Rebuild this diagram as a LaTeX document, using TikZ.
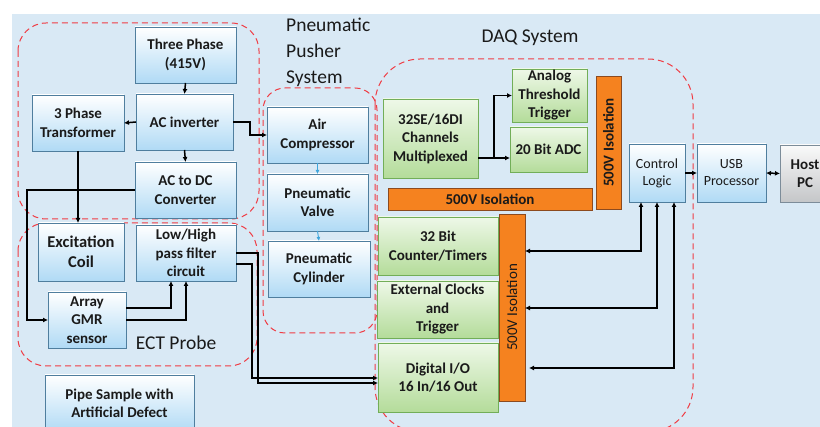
\documentclass[tikz,border=0pt]{standalone}
\usepackage{fontspec}
\setmainfont{Carlito}
\usetikzlibrary{arrows.meta,shadows}
\definecolor{bg}{HTML}{D9E9F5}
\definecolor{boxblue}{HTML}{B0DAF5}
\definecolor{boxedge}{HTML}{4F7E9E}
\definecolor{grnlight}{HTML}{EEF8E8}
\definecolor{grndark}{HTML}{B4DC9A}
\definecolor{grnedge}{HTML}{72AE58}
\definecolor{orng}{HTML}{F5821F}
\definecolor{orngedge}{HTML}{8C4A1E}
\definecolor{grylight}{HTML}{FAFAFA}
\definecolor{grydark}{HTML}{C4C6C8}
\definecolor{gryedge}{HTML}{7C8C99}
\definecolor{reddash}{HTML}{F03C44}
\definecolor{pneuarrow}{HTML}{3DA5DC}
\definecolor{txt}{HTML}{1A1A1A}
\tikzset{
  boxfont/.style={font=\bfseries\fontsize{15}{18.5}\selectfont},
  shade3d/.style={drop shadow={shadow xshift=1.3pt,shadow yshift=-1.3pt,fill=black!70,opacity=0.55}},
  bbox/.style={draw=boxedge, line width=0.8pt, top color=white, bottom color=boxblue,
    inner sep=1pt, outer sep=0pt, align=center, boxfont, text=txt, shade3d},
  gbox/.style={draw=grnedge, line width=0.8pt, top color=grnlight, bottom color=grndark,
    inner sep=1pt, outer sep=0pt, align=center, boxfont, text=txt, shade3d},
  hbox/.style={draw=gryedge, line width=0.8pt, top color=grylight, bottom color=grydark,
    inner sep=1pt, outer sep=0pt, align=center, boxfont, text=txt, shade3d},
  obar/.style={draw=orngedge, line width=0.9pt, fill=orng, inner sep=0pt, outer sep=0pt,
    align=center, text=txt, shade3d},
  grp/.style={draw=reddash, line width=1pt, dash pattern=on 6pt off 4pt},
  conn/.style={draw=black, line width=1.5pt, -{Latex[length=5pt,width=5pt]}},
  conn2/.style={draw=black, line width=1.5pt, {Latex[length=5pt,width=5pt]}-{Latex[length=5pt,width=5pt]}},
  pconn/.style={draw=pneuarrow, line width=0.9pt, -{Latex[length=4pt,width=4pt]}},
  lbl/.style={font=\fontsize{19.5}{26}\selectfont, text=txt, inner sep=0pt},
}
\begin{document}
\begin{tikzpicture}[x=1pt,y=-1pt]
\path[use as bounding box] (0,0) rectangle (820,427);
\clip (0,0) rectangle (820,427);
\fill[white] (0,0) rectangle (820,427);
\fill[bg] (12,14) rectangle (820,427);

% dashed groups
\draw[grp, rounded corners=28pt] (18,23) rectangle (259,219);
\draw[grp, rounded corners=28pt] (18,223) rectangle (257,366);
\draw[grp, rounded corners=22pt] (263,88) rectangle (377,333);
\draw[grp, rounded corners=45pt] (375,59) rectangle (693,432);

% labels
\node[lbl, align=left, anchor=west] (pnlbl) at (286,52) {Pneumatic\\Pusher\\System};
\node[lbl] (daqlbl) at (530,38) {DAQ System};
\node[lbl] (ectlbl) at (176,343) {ECT Probe};

% power group
\node[bbox, minimum width=101pt, minimum height=56pt] (threephase) at (185.5,55) {Three Phase\\(415V)};
\node[bbox, minimum width=97pt, minimum height=56pt] (acinv) at (184.5,122) {AC inverter};
\node[bbox, minimum width=92pt, minimum height=56pt] (trans) at (78,123) {3 Phase\\Transformer};
\node[bbox, minimum width=101pt, minimum height=56pt] (acdc) at (185.5,190) {AC to DC\\Converter};

% ECT probe
\node[bbox, minimum width=86pt, minimum height=58pt, font=\bfseries\fontsize{16.5}{20}\selectfont] (excoil) at (81,252) {Excitation\\Coil};
\node[bbox, minimum width=100pt, minimum height=56pt] (filter) at (186,253) {Low/High\\pass filter\\circuit};
\node[bbox, minimum width=78pt, minimum height=56pt] (gmr) at (87,320) {Array\\GMR\\sensor};
\node[bbox, minimum width=149pt, minimum height=57pt] (pipe) at (119.5,403.5) {Pipe Sample with\\Artificial Defect};

% pneumatic
\node[bbox, minimum width=101pt, minimum height=56pt] (aircomp) at (317.5,135) {Air\\Compressor};
\node[bbox, minimum width=101pt, minimum height=57pt] (valve) at (317.5,202.5) {Pneumatic\\Valve};
\node[bbox, minimum width=102pt, minimum height=56pt] (cyl) at (319,269) {Pneumatic\\Cylinder};

% DAQ
\node[gbox, minimum width=95pt, minimum height=79pt] (mux) at (430.5,138.5) {32SE/16DI\\Channels\\Multiplexed};
\node[gbox, minimum width=75pt, minimum height=53pt] (analog) at (549.5,95.5) {Analog\\Threshold\\Trigger};
\node[gbox, minimum width=77pt, minimum height=45pt] (adc) at (548.5,149.5) {20 Bit ADC};
\node[obar, minimum width=204pt, minimum height=22pt, boxfont] (isoH) at (490,199) {500V Isolation};
\node[obar, rotate=90, minimum width=133pt, minimum height=25pt, boxfont] (isoV1) at (608.5,142.5) {500V Isolation};
\node[gbox, minimum width=120pt, minimum height=58pt] (counter) at (438,246) {32 Bit\\Counter/Timers};
\node[gbox, minimum width=121pt, minimum height=57pt] (extclk) at (437.5,309.5) {External Clocks\\and\\Trigger};
\node[gbox, minimum width=120pt, minimum height=69pt] (dio) at (438,377.5) {Digital I/O\\16 In/16 Out};
\node[obar, rotate=90, minimum width=187pt, minimum height=26pt, font=\fontsize{15}{17}\selectfont] (isoV2) at (512,307.5) {500V Isolation};

\node[bbox, minimum width=56pt, minimum height=58pt, font=\fontsize{14}{17}\selectfont] (ctrl) at (657,173) {Control\\Logic};
\node[bbox, minimum width=69pt, minimum height=58pt, font=\fontsize{14}{17}\selectfont] (usb) at (731.5,173) {USB\\Processor};
\node[hbox, minimum width=50pt, minimum height=57pt] (host) at (805,173.5) {Host\\PC};

% connectors: power
\draw[conn] (threephase.south) -- (acinv.north);
\draw[conn] (acinv.west) -- (trans.east);
\draw[conn] (acinv.south) -- (acdc.north);
\draw[conn] (acinv.east) -- ++(17,0) |- (aircomp.west);
\draw[conn] (trans.south) -- (trans.south |- excoil.north);
\coordinate (j1) at (27,190);
\draw[conn] (acdc.west) -- (j1) |- (gmr.west);

% ECT
\draw[conn] ([yshift=12pt]gmr.east) -| ([xshift=-15pt]filter.south);
\draw[conn] (gmr.east) -| (filter.south);
\draw[conn] (filter.east) -- ++(22,0) |- ([yshift=-5.5pt]dio.west);
\draw[conn] ([yshift=-11pt]filter.east) -- ++(16,0) |- ([yshift=-0.5pt]dio.west);

% pneumatic
\draw[pconn] (aircomp.south) -- (valve.north);
\draw[pconn] (valve.south) -- (cyl.north);

% DAQ
\draw[conn] ([yshift=-19.5pt]mux.east) -- ++(16,0) |- (analog.west);
\draw[conn] ([yshift=-19.5pt]mux.east) -- ([yshift=-8.5pt]adc.west);
\draw[conn] (ctrl.east) -- (usb.west);
\draw[conn2] (usb.east) -- (host.west);
\draw[conn2] ([xshift=-16pt]ctrl.south) |- ([yshift=56.5pt]isoV2.south);
\draw[conn2] (ctrl.south) |- ([yshift=-0.5pt]isoV2.south);
\draw[conn2] ([xshift=17pt]ctrl.south) |- ([xshift=4pt,yshift=-60.5pt]isoV2.south);
\end{tikzpicture}
\end{document}
